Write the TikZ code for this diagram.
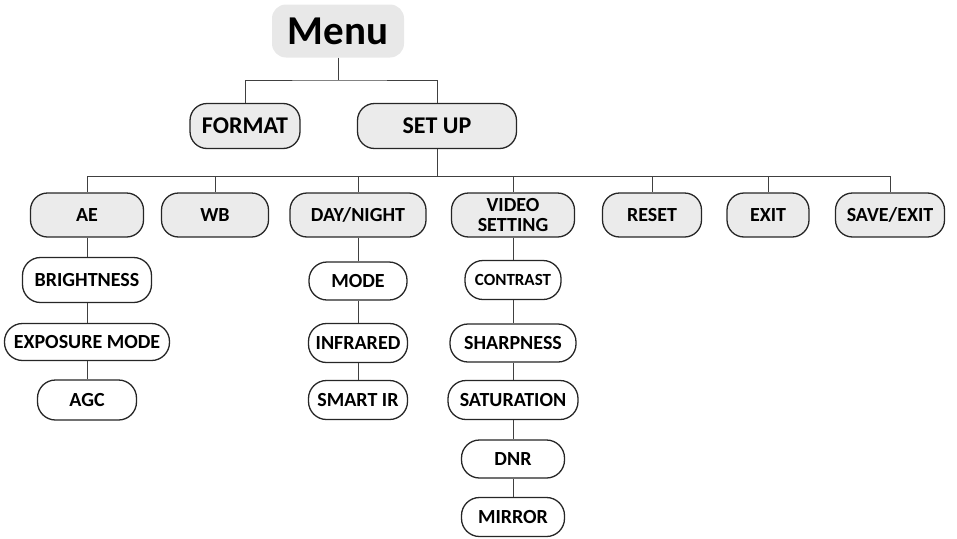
\documentclass[tikz,border=0pt]{standalone}
\usepackage{fontspec}
\setmainfont{Carlito}
\usetikzlibrary{positioning}
\tikzstyle{topbox}=[rectangle,rounded corners=17pt,draw=black!85,line width=1.3pt,fill=black!8,minimum height=44pt,inner sep=1pt,align=center,font=\bfseries\fontsize{20}{20}\selectfont]
\tikzstyle{subbox}=[topbox,fill=white,rounded corners=18pt]
\tikzstyle{link}=[draw,black!75,line width=0.9pt]

\begin{document}
\begin{tikzpicture}[x=1pt,y=-1pt]
    \useasboundingbox (0,0) rectangle (957,538);

    \node[rectangle,rounded corners=14pt,fill=black!9,minimum width=132pt,minimum height=53pt,font=\bfseries\fontsize{41}{41}\selectfont] (menu) at (338,31) {Menu};
    \node[topbox,minimum width=110pt,minimum height=45pt,font=\bfseries\fontsize{24}{24}\selectfont] (format) at (245,126) {FORMAT};
    \node[topbox,minimum width=159pt,minimum height=45pt,font=\bfseries\fontsize{24}{24}\selectfont] (setup) at (437,126) {SET UP};

    \foreach \x/\name/\w/\txt in {87/ae/113/AE, 215/wb/107/WB, 358/day/136/{DAY/NIGHT}, 513/video/123/{VIDEO\\SETTING}, 652/reset/99/RESET, 768/exit/82/EXIT, 890/save/109/{SAVE/EXIT}}
        \node[topbox,minimum width=\w pt] (\name) at (\x,215) {\txt};

    \foreach \pos/\name/\w/\h/\txt in {{(87,280)/bright/129/45/BRIGHTNESS}, {(87,342)/expo/165/37/EXPOSURE MODE}, {(87,400)/agc/99/40/AGC},
        {(358,281)/mode/98/38/MODE}, {(358,343)/infra/99/39/INFRARED}, {(358,400)/smart/99/39/SMART IR},
        {(513,343)/sharp/126/38/SHARPNESS}, {(513,400)/satur/130/39/SATURATION}, {(513,459)/dnr/103/38/DNR}, {(513,517)/mirror/103/39/MIRROR}}
        \node[subbox,minimum width=\w pt,minimum height=\h pt] (\name) at \pos {\txt};
    \node[subbox,minimum width=96pt,minimum height=39pt,font=\bfseries\fontsize{17}{17}\selectfont] (contrast) at (513,280) {CONTRAST};

    % menu branches
    \coordinate (m) at (338,80);
    \coordinate (bar) at (437,176);
    \path[link] (menu) -- (m);
    \path[link] (format.north) |- (m) -| (setup.north);
    \path[link] (setup) -- (bar);
    \foreach \name in {ae, wb, day, video, reset, exit, save}
        \path[link] (bar) -| (\name.north);

    \foreach \source/\dest in {ae/bright, bright/expo, expo/agc, day/mode, mode/infra, infra/smart, video/contrast, contrast/sharp, sharp/satur, satur/dnr, dnr/mirror}
        \path[link] (\source) -- (\dest);

\end{tikzpicture}
\end{document}
